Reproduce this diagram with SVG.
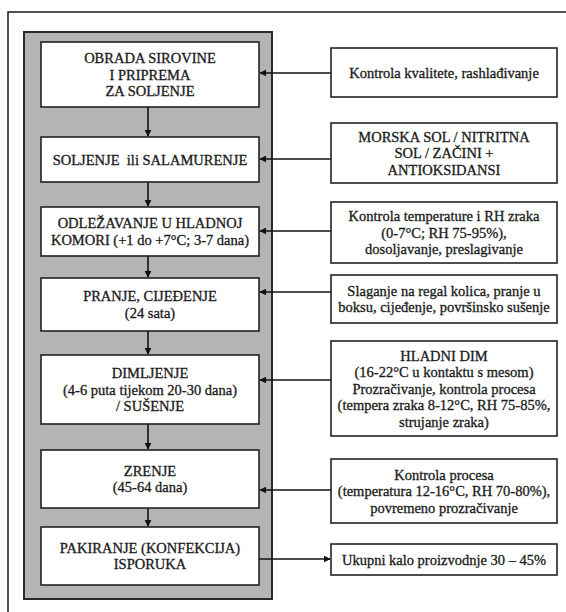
<svg xmlns="http://www.w3.org/2000/svg" width="566" height="612" viewBox="0 0 566 612">
<style>
.frame{fill:none;stroke:#1a1a1a;stroke-width:1.5}
.panel{fill:#b4b4b4;stroke:#2a2a2a;stroke-width:2}
.box{fill:#fff;stroke:#222;stroke-width:1.6}
.t{font-family:"Liberation Serif","Times New Roman",serif;font-size:14.5px;fill:#1a1a1a;stroke:#1a1a1a;stroke-width:0.3;text-anchor:middle;white-space:pre}
.c{stroke:#111;stroke-width:1.6;fill:none}
</style>
<defs>
<marker id="ah" viewBox="0 0 10 10" refX="9" refY="5" markerWidth="7" markerHeight="7" markerUnits="userSpaceOnUse" orient="auto">
<path d="M0,0 L10,5 L0,10 z" fill="#111"/>
</marker>
</defs>
<rect width="566" height="612" fill="#fff"/>
<path class="frame" d="M8,612 V12 H566"/>
<rect class="panel" x="24" y="32" width="248" height="567"/>

<g id="connectors">
<line class="c" x1="148" y1="107" x2="148" y2="136" marker-end="url(#ah)"/>
<line class="c" x1="148" y1="182" x2="148" y2="206" marker-end="url(#ah)"/>
<line class="c" x1="148" y1="256" x2="148" y2="277" marker-end="url(#ah)"/>
<line class="c" x1="148" y1="331" x2="148" y2="354" marker-end="url(#ah)"/>
<line class="c" x1="148" y1="424" x2="148" y2="449" marker-end="url(#ah)"/>
<line class="c" x1="148" y1="508" x2="148" y2="526" marker-end="url(#ah)"/>
<line class="c" x1="331" y1="73" x2="260" y2="73" marker-end="url(#ah)"/>
<line class="c" x1="331" y1="159" x2="260" y2="159" marker-end="url(#ah)"/>
<line class="c" x1="331" y1="231" x2="260" y2="231" marker-end="url(#ah)"/>
<line class="c" x1="331" y1="292" x2="260" y2="292" marker-end="url(#ah)"/>
<line class="c" x1="331" y1="380" x2="260" y2="380" marker-end="url(#ah)"/>
<line class="c" x1="331" y1="490" x2="260" y2="490" marker-end="url(#ah)"/>
<line class="c" x1="259" y1="559" x2="330" y2="559" marker-end="url(#ah)"/>
</g>

<g id="step1">
<rect class="box" x="41" y="42" width="218" height="65"/>
<text class="t" x="150" y="63">OBRADA SIROVINE</text>
<text class="t" x="150" y="79.5">I PRIPREMA</text>
<text class="t" x="150" y="96">ZA SOLJENJE</text>
</g>
<g id="step2">
<rect class="box" x="41" y="137" width="218" height="45"/>
<text class="t" x="150" y="164.5">SOLJENJE  ili SALAMURENJE</text>
</g>
<g id="step3">
<rect class="box" x="41" y="207" width="218" height="49"/>
<text class="t" x="150" y="228">ODLEŽAVANJE U HLADNOJ</text>
<text class="t" x="150" y="244.5">KOMORI (+1 do +7°C; 3-7 dana)</text>
</g>
<g id="step4">
<rect class="box" x="41" y="278" width="218" height="53"/>
<text class="t" x="150" y="301">PRANJE, CIJEĐENJE</text>
<text class="t" x="150" y="317.5">(24 sata)</text>
</g>
<g id="step5">
<rect class="box" x="41" y="355" width="218" height="69"/>
<text class="t" x="150" y="378">DIMLJENJE</text>
<text class="t" x="150" y="394.5">(4-6 puta tijekom 20-30 dana)</text>
<text class="t" x="150" y="411">/ SUŠENJE</text>
</g>
<g id="step6">
<rect class="box" x="41" y="450" width="218" height="58"/>
<text class="t" x="150" y="475.5">ZRENJE</text>
<text class="t" x="150" y="492">(45-64 dana)</text>
</g>
<g id="step7">
<rect class="box" x="41" y="527" width="218" height="58"/>
<text class="t" x="150" y="552.5">PAKIRANJE (KONFEKCIJA)</text>
<text class="t" x="150" y="569">ISPORUKA</text>
</g>

<g id="note1">
<rect class="box" x="331" y="48" width="226" height="49"/>
<text class="t" x="444" y="77.5">Kontrola kvalitete, rashlađivanje</text>
</g>
<g id="note2">
<rect class="box" x="331" y="123" width="226" height="60"/>
<text class="t" x="444" y="141.5">MORSKA SOL / NITRITNA</text>
<text class="t" x="444" y="158">SOL / ZAČINI +</text>
<text class="t" x="444" y="174.5">ANTIOKSIDANSI</text>
</g>
<g id="note3">
<rect class="box" x="331" y="202" width="226" height="61"/>
<text class="t" x="444" y="221">Kontrola temperature i RH zraka</text>
<text class="t" x="444" y="237.5">(0-7°C; RH 75-95%),</text>
<text class="t" x="444" y="254">dosoljavanje, preslagivanje</text>
</g>
<g id="note4">
<rect class="box" x="331" y="275" width="226" height="48"/>
<text class="t" x="444" y="295.5">Slaganje na regal kolica, pranje u</text>
<text class="t" x="444" y="312">boksu, cijeđenje, površinsko sušenje</text>
</g>
<g id="note5">
<rect class="box" x="331" y="341" width="226" height="95"/>
<text class="t" x="444" y="360.5">HLADNI DIM</text>
<text class="t" x="444" y="377">(16-22°C u kontaktu s mesom)</text>
<text class="t" x="444" y="393.5">Prozračivanje, kontrola procesa</text>
<text class="t" x="444" y="410">(tempera zraka 8-12°C, RH 75-85%,</text>
<text class="t" x="444" y="426.5">strujanje zraka)</text>
</g>
<g id="note6">
<rect class="box" x="331" y="459" width="226" height="64"/>
<text class="t" x="444" y="479.5">Kontrola procesa</text>
<text class="t" x="444" y="496">(temperatura 12-16°C, RH 70-80%),</text>
<text class="t" x="444" y="512.5">povremeno prozračivanje</text>
</g>
<g id="note7">
<rect class="box" x="331" y="544" width="226" height="31"/>
<text class="t" x="444" y="564.5">Ukupni kalo proizvodnje 30 – 45%</text>
</g>
</svg>
